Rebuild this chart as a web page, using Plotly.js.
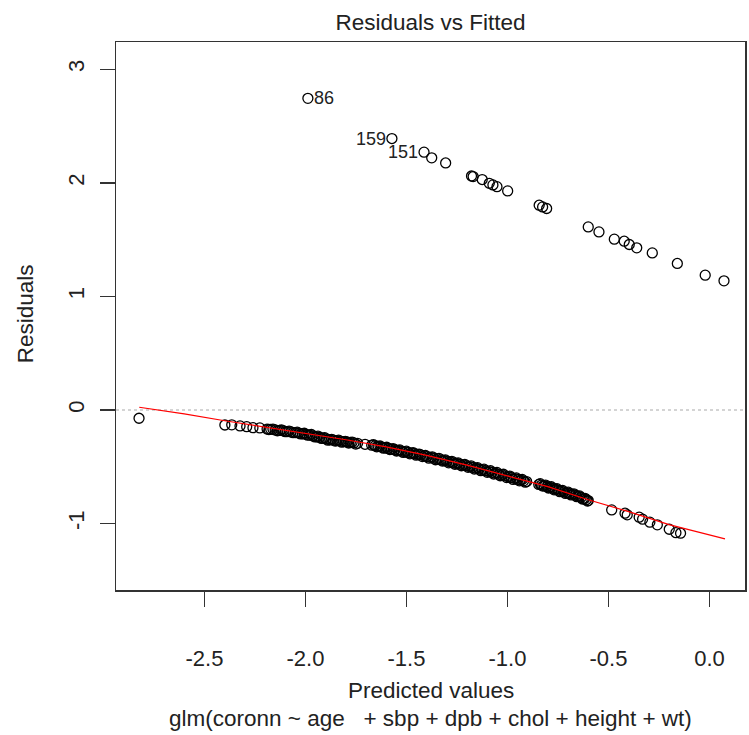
<!DOCTYPE html>
<html>
<head>
<meta charset="utf-8">
<script src="https://cdn.plot.ly/plotly-3.0.1.min.js"></script>
<style>html,body{margin:0;padding:0;background:#fff;}#chart{width:749px;height:735px;}</style>
</head>
<body>
<div id="chart"></div>
<script>
// Upper group (observations with positive residuals)
const upperFitted = [-1.988, -1.572, -1.413, -1.375, -1.306, -1.178, -1.170, -1.125, -1.090, -1.072, -1.052, -0.999,
  -0.843, -0.826, -0.806, -0.600, -0.547, -0.471, -0.422, -0.397, -0.360, -0.283, -0.159, -0.021, 0.072];
const upperResid = [2.744, 2.390, 2.270, 2.220, 2.175, 2.060, 2.055, 2.029, 1.996, 1.982, 1.966, 1.929,
  1.803, 1.788, 1.774, 1.612, 1.568, 1.504, 1.486, 1.457, 1.428, 1.383, 1.290, 1.187, 1.137];

// Lower group (observations with negative residuals)
const lowerFitted = [-2.824,
  -2.399, -2.365, -2.324, -2.291, -2.260, -2.226,
  -2.190, -2.172, -2.150, -2.128, -2.110, -2.091, -2.072, -2.050, -2.033, -2.015, -1.998, -1.980, -1.962, -1.945, -1.930, -1.912, -1.897, -1.880,
  -1.862, -1.845, -1.828, -1.812, -1.795, -1.778, -1.760, -1.742, -1.705, -1.672, -1.655, -1.640, -1.622, -1.606, -1.590, -1.575, -1.558, -1.541, -1.525, -1.508, -1.492, -1.475, -1.460, -1.445, -1.430,
  -1.413, -1.398, -1.380, -1.365, -1.348, -1.330, -1.315, -1.300, -1.283, -1.268, -1.252, -1.236, -1.220, -1.203, -1.188, -1.172, -1.156, -1.140, -1.125, -1.108, -1.092, -1.076, -1.060, -1.044, -1.028, -1.012, -0.996, -0.980, -0.963, -0.948, -0.935, -0.920, -0.905,
  -0.845, -0.832, -0.818, -0.804, -0.790, -0.776, -0.762, -0.748, -0.734, -0.720, -0.706, -0.692, -0.678, -0.664, -0.650, -0.636, -0.622, -0.610, -0.600,
  -0.484, -0.418, -0.407, -0.348, -0.331, -0.295, -0.258, -0.199, -0.166, -0.143];
const lowerResid = [-0.073,
  -0.132, -0.131, -0.140, -0.147, -0.156, -0.158,
  -0.168, -0.170, -0.176, -0.180, -0.183, -0.190, -0.193, -0.199, -0.203, -0.210, -0.214, -0.221, -0.228, -0.236, -0.241, -0.248, -0.255, -0.262,
  -0.266, -0.270, -0.274, -0.278, -0.282, -0.286, -0.290, -0.294, -0.302, -0.310, -0.315, -0.320, -0.327, -0.333, -0.339, -0.344, -0.350, -0.356, -0.362, -0.368, -0.374, -0.380, -0.385, -0.391, -0.396,
  -0.403, -0.410, -0.417, -0.424, -0.431, -0.439, -0.445, -0.451, -0.458, -0.465, -0.471, -0.477, -0.484, -0.491, -0.498, -0.505, -0.513, -0.520, -0.527, -0.535, -0.542, -0.549, -0.557, -0.565, -0.572, -0.580, -0.588, -0.596, -0.604, -0.611, -0.617, -0.624, -0.630,
  -0.655, -0.661, -0.667, -0.674, -0.682, -0.690, -0.698, -0.706, -0.714, -0.721, -0.729, -0.736, -0.743, -0.750, -0.760, -0.770, -0.781, -0.790, -0.798,
  -0.880, -0.909, -0.923, -0.944, -0.961, -0.988, -1.011, -1.050, -1.080, -1.085];

// Further lower-group points in the dense, overlapping band
const lowerFittedDense = [
  -2.181, -2.161, -2.139, -2.119, -2.100, -2.081, -2.061, -2.041, -2.024, -2.006, -1.989, -1.971, -1.953, -1.938, -1.921, -1.905, -1.889,
  -1.870, -1.853, -1.836, -1.820, -1.803, -1.786, -1.769, -1.751, -1.663, -1.647, -1.631, -1.614, -1.598, -1.582, -1.566, -1.549, -1.533, -1.516, -1.500, -1.483, -1.467, -1.452, -1.437,
  -1.421, -1.406, -1.389, -1.372, -1.356, -1.339, -1.322, -1.307, -1.291, -1.275, -1.260, -1.244, -1.228, -1.211, -1.195, -1.180, -1.164, -1.148, -1.132, -1.116, -1.100, -1.084, -1.068, -1.052, -1.036, -1.020, -1.004, -0.988, -0.972, -0.956, -0.941, -0.927, -0.912,
  -0.838, -0.825, -0.811, -0.797, -0.783, -0.769, -0.755, -0.741, -0.727, -0.713, -0.699, -0.685, -0.671, -0.657, -0.643, -0.629, -0.616, -0.604];
const lowerResidDense = [
  -0.172, -0.168, -0.183, -0.176, -0.191, -0.186, -0.200, -0.195, -0.211, -0.205, -0.222, -0.216, -0.237, -0.230, -0.250, -0.244, -0.266,
  -0.258, -0.274, -0.266, -0.283, -0.276, -0.291, -0.283, -0.300, -0.306, -0.324, -0.317, -0.336, -0.328, -0.349, -0.340, -0.361, -0.352, -0.374, -0.363, -0.386, -0.376, -0.398, -0.388,
  -0.410, -0.400, -0.424, -0.412, -0.438, -0.426, -0.450, -0.440, -0.465, -0.452, -0.478, -0.466, -0.491, -0.479, -0.505, -0.492, -0.520, -0.508, -0.534, -0.521, -0.549, -0.535, -0.564, -0.550, -0.579, -0.566, -0.595, -0.582, -0.611, -0.598, -0.624, -0.611, -0.636,
  -0.649, -0.670, -0.661, -0.687, -0.676, -0.703, -0.693, -0.719, -0.708, -0.735, -0.724, -0.748, -0.738, -0.763, -0.757, -0.784, -0.778, -0.802];

// Smoother (red line)
const smoothX = [-2.823, -2.6, -2.4, -2.2, -2.0, -1.8, -1.6, -1.4, -1.2, -1.0, -0.8, -0.6, -0.4, -0.2, 0.077];
const smoothY = [0.024, -0.035, -0.095, -0.150, -0.205, -0.262, -0.325, -0.400, -0.485, -0.578, -0.675, -0.790, -0.895, -1.010, -1.135];

// Labelled outliers
const outlierLabels = ["86", "159", "151"];
const outlierX = [-1.988, -1.572, -1.413];
const outlierY = [2.744, 2.390, 2.270];
const outlierSide = ["right", "left", "left"];

const xTicks = [-2.5, -2.0, -1.5, -1.0, -0.5, 0.0];
const xTickText = ["-2.5", "-2.0", "-1.5", "-1.0", "-0.5", "0.0"];
const yTicks = [-1, 0, 1, 2, 3];
const yTickText = ["-1", "0", "1", "2", "3"];

const FONT = "Liberation Sans, Arial, sans-serif";
const TXT = "#222";

const markerStyle = {symbol: "circle-open", size: 10, color: "#000", line: {width: 1.3, color: "#000"}};

const traces = [
  {x: upperFitted, y: upperResid, type: "scatter", mode: "markers", marker: markerStyle, hoverinfo: "x+y"},
  {x: lowerFitted, y: lowerResid, type: "scatter", mode: "markers", marker: markerStyle, hoverinfo: "x+y"},
  {x: lowerFittedDense, y: lowerResidDense, type: "scatter", mode: "markers", marker: markerStyle, hoverinfo: "x+y"},
  {x: smoothX, y: smoothY, type: "scatter", mode: "lines", line: {color: "#ff0000", width: 1.2}, hoverinfo: "skip"}
];

const annotations = outlierLabels.map((t, i) => ({
  x: outlierX[i], y: outlierY[i], xref: "x", yref: "y", text: t, showarrow: false,
  xanchor: outlierSide[i] === "right" ? "left" : "right",
  xshift: outlierSide[i] === "right" ? 4 : -4,
  font: {family: FONT, size: 18, color: TXT}
}));
annotations.push(
  {x: 0.5, y: 0, xref: "paper", yref: "paper", text: "Predicted values", showarrow: false,
   yanchor: "middle", yshift: -100, font: {family: FONT, size: 22.5, color: TXT}},
  {x: 0.5, y: 0, xref: "paper", yref: "paper",
   text: "glm(coronn ~ age\u00a0\u00a0\u00a0+ sbp + dpb + chol + height + wt)", showarrow: false,
   yanchor: "middle", yshift: -128, font: {family: FONT, size: 22.5, color: TXT}},
  {x: 0, y: 0.503, xref: "paper", yref: "paper", text: "Residuals", showarrow: false,
   textangle: -90, xanchor: "center", xshift: -91, font: {family: FONT, size: 22.5, color: TXT}}
);

const layout = {
  width: 749, height: 735,
  margin: {l: 116, r: 4, t: 42, b: 145, pad: 0},
  paper_bgcolor: "#fff", plot_bgcolor: "#fff",
  showlegend: false,
  title: {text: "Residuals vs Fitted", x: 0.5, xref: "paper", xanchor: "center", y: 1, yref: "container", yanchor: "top", pad: {t: 14},
          font: {family: FONT, size: 22.5, color: TXT}},
  xaxis: {range: [-2.938, 0.176], tickmode: "array", tickvals: xTicks, ticktext: xTickText,
          showgrid: false, zeroline: false, showline: true, mirror: true, linecolor: "#333", linewidth: 1.5,
          ticks: "outside", ticklen: 15, tickwidth: 1.5, tickcolor: "#333", ticklabelstandoff: 33,
          tickfont: {family: FONT, size: 22, color: TXT}},
  yaxis: {range: [-1.585, 3.24], tickmode: "array", tickvals: yTicks, ticktext: yTickText,
          showgrid: false, zeroline: false, showline: true, mirror: true, linecolor: "#333", linewidth: 1.5,
          ticks: "outside", ticklen: 15, tickwidth: 1.5, tickcolor: "#333", tickangle: -90, ticklabelstandoff: 7,
          tickfont: {family: FONT, size: 22, color: TXT}},
  shapes: [{type: "line", xref: "paper", x0: 0, x1: 1, yref: "y", y0: 0, y1: 0,
            line: {color: "#aaaaaa", width: 1.2, dash: "dot"}, layer: "below"}],
  annotations: annotations
};

Plotly.newPlot("chart", traces, layout, {displayModeBar: false, staticPlot: true});
</script>
</body>
</html>
